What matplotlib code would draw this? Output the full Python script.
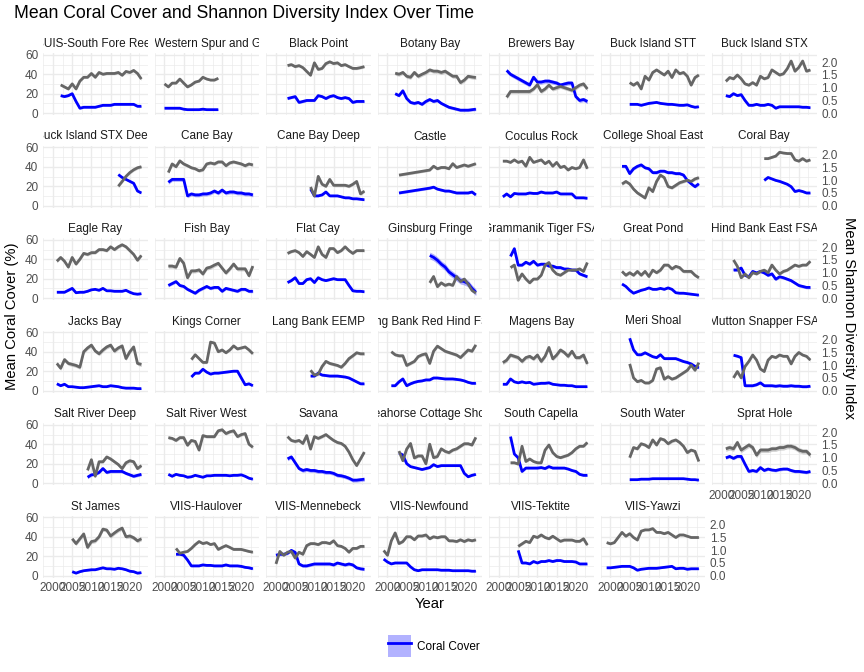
import numpy as np
import matplotlib
matplotlib.use("Agg")
import matplotlib.pyplot as plt
from matplotlib.patches import Patch
from matplotlib.lines import Line2D
from matplotlib.ticker import FormatStrFormatter

plt.rcParams["font.family"] = ["Liberation Sans", "DejaVu Sans"]

# -------------------------------------------------------------
# 1. DATA (one entry per site)
#    None = year not surveyed (line is bridged across the gap)
# -------------------------------------------------------------
sites = [
    "BUIS-South Fore Reef", "BUIS-Western Spur and Groove", "Black Point", "Botany Bay",
    "Brewers Bay", "Buck Island STT", "Buck Island STX",
    "Buck Island STX Deep", "Cane Bay", "Cane Bay Deep", "Castle", "Coculus Rock",
    "College Shoal East", "Coral Bay",
    "Eagle Ray", "Fish Bay", "Flat Cay", "Ginsburg Fringe", "Grammanik Tiger FSA",
    "Great Pond", "Hind Bank East FSA",
    "Jacks Bay", "Kings Corner", "Lang Bank EEMP", "Lang Bank Red Hind FSA", "Magens Bay",
    "Meri Shoal", "Mutton Snapper FSA",
    "Salt River Deep", "Salt River West", "Savana", "Seahorse Cottage Shoal", "South Capella",
    "South Water", "Sprat Hole",
    "St James", "VIIS-Haulover", "VIIS-Mennebeck", "VIIS-Newfound", "VIIS-Tektite", "VIIS-Yawzi",
]

first_year = [
    2002, 2000, 2003, 2002, 2002, 2005, 2001,
    2017, 2001, 2009, 2003, 2001, 2003, 2011,
    2001, 2001, 2003, 2011, 2003, 2003, 2003,
    2001, 2007, 2009, 2001, 2001, 2005, 2003,
    2009, 2001, 2003, 2003, 2003, 2005, 2001,
    2005, 2003, 2000, 1999, 2005, 1999,
]

N = None
coral_cover = [
    [18, 17, 18, 20, 12, 5, 6, 6, 6, 6, 7, 8, 8, 8, 9, 9, 9, 9, 9, 9, 7, 7],
    [5, 5, 5, 5, 5, 4, 3.5, 3.5, 3.5, 3.5, 4, 3.5, 3.5, 3.5, 3.5],
    [15, 16, 17, 11, 12, 13, 13, 13, 18, 17, 15, 17, 18, 16, 15, 16, 15, 11, 12, 12, 12],
    [20, 18, 23, 15, 11, 10, 11, 9, 12, 14, 12, 13, 10, 8, 6, 5, 4, 3, 3, 3, 3.5, 4],
    [44, 40, N, N, N, N, 29, 37, 32, 32, 33, 33, 32, 31, 29, 30, 31, 31, 17, 13, 14, 12],
    [9, 9, 9, 8, 9, 10, 10.5, 11, 10, 9.5, 9, 9, 8.5, 8, 8, 8.5, 7, 6, 6.5],
    [18, 17, 20, 18, 19, 13, 8, 8, 9, 8, 8, 9, 8, 5, 6.5, 6.5, 6.5, 6.5, 6.5, 6.5, 6, 6, 5.5],
    [32, 29, 27, 25, 23, 15, 13],
    [24, 27, 27, 27, 27, 10, 12, 11, 11, 12, 12, 13, 15, 13, 16, 13, 14, 14, 13, 13, 12, 12, 11],
    [17, 10, 10, 11, 14, 10, 10, 10, 9, 8, 8, 7, 7, 6.5, 6],
    [13, N, N, N, N, N, N, N, 18, 19, 17, 16, 15, 15, 14, 13, 13, 13, 13, 14, 11],
    [9, 12, 9, 12.5, 12, 12, 12, 13, 12.5, 12.5, 14, 13, 13, 13, 14, 12, 12, 12, 12, 8, 8, 8, 7.5],
    [40.5, 40.5, 33, 38, 40.5, 42, 39, 38, 34, 34, 35.5, 35.5, 34, 34, 33, 33, 31.5, 26, 22.5, 19.5, 22.5],
    [26, 29, 27.5, 26, 25, 23.5, 22, 19.5, 14.5, 15.5, 14.5, 13, 13],
    [6, 6, 6, 8, 10, 5.5, 6, 6, 7, 8.5, 9, 8, 10, 7.5, 7.5, 7, 7, 7, 8, 6, 4.5, 4, 4.5],
    [13, 15, 17, 13, 12, 9, 7, 5, 8, 10, 12, 10, 11, 11, 7, 10, 9, 8, 7, 9, 9, 7, 7],
    [16, 18, 21, 15, 15, 19, 20, 16, 21, 19, 18, 19, 20, 19, 19, 19, 13, 7.5, 7, 7, 6.5],
    [44, 42, 39, 35, 32, 27, 24, 21, 18, 17, 15, 10, 6],
    [43, 51, 34, 34, 37, 35, 38, 34, 35, 35, 33, 33, 31.5, 31.5, 30, 30, 29, 29, 25, 23.5, 22],
    [14.5, 12, 8, 5, 6.5, 8, 9, 10.5, 9, 9, 10, 9, 10.5, 9, 5.5, 5, 5, 4.5, 4, 3.5, 3],
    [29, 29, 31, 23.5, 22, 27.5, 26, 27.5, 26, 23.5, 25, 19.5, 22, 21, 19.5, 18, 15.5, 13, 12, 11, 11],
    [7, 5, 6.5, 4, 4, 3.5, 3, 3, 3.5, 4, 4.5, 5, 4, 4, 5, 4.5, 4, 3, 2.5, 2.5, 2.5, 2, 2],
    [14, 18, 18, 22, 19, 17, 18, 18, 18.5, 19, 19.5, 20, 20, 13, 6, 7, 5],
    [15, 15, 18, 16, 15.5, 15, 15, 15, 14.5, 14, 13, 11, 9, 7, 7],
    [5, 5, 9, 12, 5, 7, 8.5, 9.5, 10, 11, 11, 13, 13, 12.5, 12, 12, 12, 11.5, 11, 10, 8.5, 7.5, 7.5],
    [6.5, 6.5, 12, 9, 8, 9, 8, 8.5, 6.5, 7, 7.5, 7.5, 8, 6.5, 6, 5.5, 5.5, 5, 5, 4, 4, 4, 4],
    [54, 42, 37, 37, 39, 37, 35, 34, 37, 33, 33, 33, 33, 31.5, 30, 29, 27.5, 25, 23.5],
    [36.5, 35.5, 34, 5, 5, 5, 6, 8, 5, 5, 5, 4.5, 5, 4.5, 4.5, 5, 4.5, 4.5, 4, 4, 4.5],
    [6, 8.5, 9, 11, 15, 11, 12, 12, 12, 12, 10, 8.5, 7, 8, 9],
    [9, 7, 9, 8, 7.5, 6, 6.5, 8, 7, 6, 7.5, 7.5, 8, 8, 8, 8, 7.5, 8, 8, 8.5, 7, 5, 4],
    [25, 27, 21, 15, 13, 14, 13, 13, 12, 12, 11, 11, 10, 8, 7.5, 6.5, 5, 3, 3, 3.5, 4],
    [31, 29, 20, 17, 16, 15, 14, 15, 16, 19, 17, 18, 18, 18, 18, 18, 18, 10, 6.5, 8, 9],
    [48, 30, 26, 12, 15.5, 15.5, 15.5, 15.5, 16, 15, 17, 15.5, 15.5, 15.5, 15.5, 14.5, 13, 12, 9, 8, 8],
    [3.5, 3.5, 3.5, 4, 4, 4, 4.5, 4.5, 4.5, 4.5, 4.5, 4.5, 4.5, 4.5, 4.5, 4, 3.5, 3.5, 3],
    [26, 27.5, 25.5, 27.5, 27.5, 19.5, 12, 13, 12, 16, 13, 14.5, 13.5, 13, 14, 14.5, 14.5, 13, 12, 12, 11.5, 11, 12],
    [4, 2.5, 4, 5, 5.5, 6, 6, 7, 8, 7, 7, 6.5, 7.5, 7, 6, 4.5, 4, 2.5, 3],
    [22, 22, 21, 16, 10, 10, 10, 11, 10.5, 10.5, 10, 10, 10, 11, 10, 10, 10, 9.5, 8.5, 8, 7],
    [21, 22, 22, 23, 26, 24, 12, 10, 10, 11, 12, 12, 12, 12, 12, 11, 13, 12, 11, 12, 11, 8, 7, 6.5],
    [17, 14, 12, 13, 13, 13, 13, 9, 6, 5, 6, 6, 6, 6, 6, 5.5, 5.5, 5.5, 5, 5, 5, 5, 5, 4.5, 4.5],
    [26, 13, 13, 12, 14.5, 13, 14.5, 14.5, 15.5, 14.5, 15.5, 15.5, 14.5, 14.5, 14.5, 14, 12, 12, 12],
    [8, 8, 8.5, 9, 9.5, 9.5, 9.5, 8, 5.5, 6.5, 7, 7.5, 7.5, 7.5, 8, 8.5, 9, 9.5, 7, 7.5, 7.5, 6.5, 7, 7, 7],
]

shannon_index = [
    [1.11, 1.03, 0.95, 1.15, 0.95, 1.26, 1.41, 1.41, 1.56, 1.41, 1.60, 1.53, 1.56, 1.56, 1.56, 1.60, 1.49, 1.64, 1.60, 1.68, 1.56, 1.34],
    [1.15, 1.03, 1.18, 1.18, 1.34, 1.18, 1.03, 1.11, 1.22, 1.26, 1.41, 1.34, 1.30, 1.30, 1.37],
    [1.87, 1.91, 1.83, 1.87, 1.79, 1.64, 1.49, 1.98, 1.72, 1.76, 1.95, 2.02, 1.95, 1.98, 1.87, 1.91, 1.83, 1.76, 1.76, 1.79, 1.83],
    [1.57, 1.53, 1.60, 1.45, 1.41, 1.60, 1.45, 1.53, 1.60, 1.70, 1.65, 1.65, 1.60, 1.65, 1.55, 1.45, 1.45, 1.20, 1.30, 1.45, 1.42, 1.40],
    [0.62, 0.85, N, N, N, N, 0.85, 0.95, 1.12, 0.85, 0.95, 1.10, 0.95, 1.00, 1.05, 1.00, 0.95, 0.90, 1.00, 1.10, 1.15, 0.95],
    [1.20, 1.10, 1.20, 0.95, 1.45, 1.30, 1.60, 1.70, 1.60, 1.50, 1.65, 1.40, 1.70, 1.55, 1.60, 1.45, 1.10, 1.40, 1.50],
    [1.25, 1.40, 1.35, 1.50, 1.35, 1.15, 1.10, 1.20, 1.10, 1.45, 1.35, 1.40, 1.70, 1.60, 1.50, 1.55, 1.75, 2.05, 1.65, 1.80, 2.05, 1.65, 1.70],
    [0.76, 0.95, 1.15, 1.30, 1.41, 1.49, 1.53],
    [1.30, 1.64, 1.53, 1.76, 1.64, 1.57, 1.49, 1.45, 1.37, 1.41, 1.64, 1.68, 1.64, 1.72, 1.72, 1.57, 1.68, 1.72, 1.68, 1.64, 1.57, 1.64, 1.60],
    [0.73, 0.38, 1.15, 0.84, 0.76, 1.03, 0.80, 0.80, 0.80, 0.80, 0.76, 0.84, 0.95, 0.46, 0.57],
    [1.20, N, N, N, N, N, N, N, 1.40, 1.55, 1.45, 1.50, 1.50, 1.45, 1.65, 1.50, 1.55, 1.60, 1.55, 1.60, 1.65],
    [1.75, 1.75, 1.70, 1.80, 1.70, 1.75, 1.55, 1.90, 1.70, 1.75, 1.80, 1.65, 1.75, 1.55, 1.70, 1.50, 1.55, 1.40, 1.50, 1.45, 1.50, 1.80, 1.45],
    [0.85, 0.95, 0.85, 0.65, 0.50, 0.40, 0.30, 0.70, 0.55, 0.95, 1.20, 1.10, 0.75, 0.70, 0.80, 0.90, 0.95, 1.00, 0.95, 1.05, 1.10],
    [1.85, 1.85, 1.90, 1.95, 2.10, 2.07, 2.05, 2.05, 1.80, 1.75, 1.85, 1.75, 1.80],
    [1.45, 1.60, 1.45, 1.22, 1.60, 1.34, 1.53, 1.76, 1.72, 1.79, 1.79, 1.91, 1.91, 1.87, 2.02, 1.91, 2.02, 2.10, 2.02, 1.87, 1.72, 1.49, 1.68],
    [1.26, 1.26, 1.22, 1.56, 1.37, 0.80, 1.07, 1.07, 1.11, 0.95, 1.18, 1.22, 1.30, 1.37, 1.18, 0.99, 1.15, 1.34, 1.15, 1.15, 1.15, 0.88, 1.26],
    [1.76, 1.83, 1.87, 1.79, 1.64, 1.83, 1.72, 1.60, 2.02, 1.72, 1.60, 1.95, 1.95, 1.79, 1.87, 2.02, 1.87, 1.76, 1.87, 1.87, 1.87],
    [0.60, 0.85, 0.45, 0.60, 0.50, 0.55, 0.50, 0.85, 0.65, 0.75, 0.55, 0.30, 0.20],
    [1.20, 1.30, 0.70, 0.95, 0.75, 0.60, 0.75, 0.75, 0.90, 1.30, 1.40, 1.10, 0.95, 0.90, 1.00, 1.10, 1.10, 1.10, 1.15, 1.05, 1.40],
    [1.05, 0.90, 1.00, 0.90, 1.05, 0.90, 1.05, 0.85, 1.10, 1.00, 1.10, 1.30, 1.30, 1.15, 1.25, 1.20, 1.05, 1.05, 1.05, 0.90, 0.80],
    [1.50, 1.25, 0.80, 0.95, 0.80, 1.00, 0.95, 1.05, 1.10, 1.00, 1.30, 1.10, 0.95, 1.05, 1.10, 1.20, 1.30, 1.25, 1.30, 1.30, 1.45],
    [1.07, 0.88, 1.22, 1.07, 1.03, 0.99, 0.92, 1.53, 1.68, 1.79, 1.56, 1.45, 1.60, 1.72, 1.79, 1.56, 1.68, 1.76, 1.26, 1.53, 1.72, 1.07, 1.03],
    [1.22, 1.41, 1.26, 1.11, 1.11, 1.91, 1.87, 1.53, 1.60, 1.49, 1.60, 1.76, 1.64, 1.68, 1.72, 1.60, 1.45],
    [0.80, 0.61, 0.65, 0.95, 1.15, 1.07, 1.03, 0.99, 0.92, 1.07, 1.26, 1.37, 1.49, 1.45, 1.45],
    [1.53, 1.41, 1.37, 1.37, 0.99, 1.07, 1.15, 1.34, 1.41, 1.45, 1.07, 1.55, 1.75, 1.65, 1.55, 1.50, 1.45, 1.40, 1.30, 1.45, 1.60, 1.55, 1.80],
    [1.10, 1.20, 1.40, 1.35, 1.30, 1.15, 1.30, 1.35, 1.25, 1.40, 1.15, 1.35, 1.70, 1.25, 1.40, 1.60, 1.50, 1.35, 1.55, 1.30, 1.30, 1.40, 1.05],
    [1.05, 0.50, 0.35, 0.40, 0.30, 0.30, 0.40, 0.85, 0.90, 0.45, 0.55, 0.45, 0.50, 0.60, 0.70, 0.80, 1.00, 0.80, 1.10],
    [0.50, 0.75, 0.50, 0.95, 1.15, 1.40, 1.20, 0.85, 0.75, 1.20, 1.35, 1.30, 1.40, 1.35, 1.35, 1.05, 1.35, 1.50, 1.40, 1.35, 1.20],
    [0.50, 0.92, 0.27, 0.84, 0.84, 1.03, 0.95, 0.84, 0.73, 0.57, 0.80, 0.88, 0.84, 0.57, 0.69],
    [1.79, 1.76, 1.68, 1.79, 1.79, 1.49, 1.68, 1.64, 1.30, 1.87, 1.83, 1.83, 1.83, 2.06, 2.10, 1.95, 2.02, 2.06, 1.83, 1.91, 1.95, 1.53, 1.41],
    [1.83, 1.68, 1.64, 1.68, 1.56, 1.87, 1.34, 1.83, 1.76, 1.83, 1.91, 1.79, 1.68, 1.60, 1.56, 1.45, 1.22, 0.92, 0.69, 0.95, 1.22],
    [1.26, 0.88, 1.34, 1.56, 0.99, 1.07, 1.07, 0.76, 1.53, 1.00, 1.05, 1.35, 1.25, 1.20, 1.30, 1.35, 1.45, 1.55, 1.55, 1.50, 1.80],
    [0.80, 0.80, 0.75, 1.45, 0.85, 0.95, 0.85, 0.80, 0.80, 1.30, 1.50, 1.20, 1.05, 1.00, 1.05, 1.10, 1.20, 1.35, 1.45, 1.45, 1.60],
    [1.00, 1.40, 1.35, 1.55, 1.50, 1.40, 1.70, 1.50, 1.75, 1.70, 1.55, 1.65, 1.70, 1.60, 1.45, 1.20, 1.30, 1.25, 0.85],
    [1.35, 1.40, 1.35, 1.60, 1.30, 1.40, 1.50, 1.40, 1.10, 1.30, 1.30, 1.30, 1.35, 1.35, 1.40, 1.40, 1.45, 1.45, 1.40, 1.30, 1.25, 1.25, 1.10],
    [1.45, 1.26, 1.45, 1.64, 1.11, 1.34, 1.37, 1.53, 1.83, 1.79, 1.56, 1.68, 1.79, 1.87, 1.53, 1.56, 1.49, 1.37, 1.45],
    [1.07, 0.88, 0.92, 0.95, 1.07, 1.22, 1.34, 1.26, 1.30, 1.22, 1.26, 1.03, 1.11, 1.18, 1.11, 1.03, 1.03, 1.03, 0.99, 0.95, 0.92],
    [0.46, 0.95, 0.80, 0.92, 0.95, 0.69, 0.92, 0.84, 1.18, 1.26, 1.26, 1.22, 1.30, 1.30, 1.26, 1.37, 1.18, 1.15, 1.07, 0.92, 1.07, 1.07, 1.15, 1.15],
    [0.99, 0.80, 1.37, 1.68, 1.26, 1.34, 1.53, 1.53, 1.41, 1.56, 1.56, 1.60, 1.45, 1.53, 1.49, 1.53, 1.53, 1.37, 1.37, 1.34, 1.41, 1.34, 1.41, 1.37, 1.41],
    [1.15, 1.25, 1.35, 1.30, 1.55, 1.50, 1.60, 1.50, 1.45, 1.55, 1.45, 1.35, 1.40, 1.40, 1.40, 1.35, 1.35, 1.45, 1.20],
    [1.30, 1.25, 1.30, 1.50, 1.70, 1.55, 1.65, 1.50, 1.40, 1.75, 1.80, 1.80, 1.85, 1.70, 1.70, 1.65, 1.70, 1.60, 1.50, 1.60, 1.60, 1.55, 1.50, 1.50, 1.50],
]

# half-width of the shaded uncertainty band around each site's lines
coral_band = [
    1.0, 0.8, 1.2, 1.5, 2.2, 0.8, 1.0,
    1.0, 2.0, 1.0, 1.2, 1.0, 1.5, 1.0,
    0.8, 1.5, 1.0, 3.5, 1.5, 0.8, 1.5,
    0.8, 1.0, 1.2, 1.0, 0.8, 1.2, 1.2,
    1.5, 0.8, 2.0, 1.0, 1.2, 0.6, 1.5,
    0.8, 1.0, 1.5, 0.8, 1.0, 0.8,
]
shannon_band = [
    0.05, 0.04, 0.05, 0.08, 0.08, 0.05, 0.05,
    0.06, 0.06, 0.06, 0.05, 0.04, 0.06, 0.04,
    0.06, 0.08, 0.05, 0.06, 0.05, 0.06, 0.05,
    0.08, 0.05, 0.06, 0.06, 0.08, 0.05, 0.05,
    0.06, 0.06, 0.06, 0.06, 0.05, 0.06, 0.10,
    0.08, 0.04, 0.05, 0.05, 0.05, 0.04,
]

SCALE = 26.2  # Shannon index * SCALE -> coral cover axis units

# -------------------------------------------------------------
# 2. LAYOUT (pixel grid of the facets)
# -------------------------------------------------------------
W, H = 864, 672
n_cols = 7
panel_w, panel_h = 104.5, 62
col_step, row_step = 111.5, 92.5
left0, top0 = 43, 53
strip_h = 18

fs = 8.45
tick_col = "#4D4D4D"
grid_col = "#EBEBEB"


def present(start, values):
    yrs = [start + k for k, v in enumerate(values) if v is not None]
    vals = [v for v in values if v is not None]
    return np.array(yrs, dtype=float), np.array(vals, dtype=float)


fig = plt.figure(figsize=(W / 100, H / 100), dpi=100)

for i, site in enumerate(sites):
    r, c = divmod(i, n_cols)
    left = left0 + c * col_step
    top = top0 + r * row_step
    ax = fig.add_axes([left / W, 1 - (top + panel_h) / H, panel_w / W, panel_h / H])

    cy, cv = present(first_year[i], coral_cover[i])
    sy, sv = present(first_year[i], shannon_index[i])
    sv_scaled = sv * SCALE
    sb = shannon_band[i] * SCALE

    ax.fill_between(cy, cv - coral_band[i], cv + coral_band[i], color="blue", alpha=0.3, lw=0)
    ax.plot(cy, cv, color="blue", lw=2.0, solid_capstyle="butt")
    ax.fill_between(sy, sv_scaled - sb, sv_scaled + sb, color="#666666", alpha=0.3, lw=0)
    ax.plot(sy, sv_scaled, color="#666666", lw=2.0, solid_capstyle="butt")

    ax.set_xlim(1997.4, 2024.6)
    ax.set_ylim(-2, 62)
    ax.set_xticks([2000, 2005, 2010, 2015, 2020])
    ax.set_xticks(np.arange(1997.5, 2025, 5), minor=True)
    ax.set_yticks([0, 20, 40, 60])
    ax.set_yticks([10, 30, 50], minor=True)
    ax.grid(which="major", color=grid_col, lw=1.0)
    ax.grid(which="minor", color=grid_col, lw=0.5)
    ax.set_axisbelow(True)
    for s in ax.spines.values():
        s.set_visible(False)
    ax.tick_params(which="both", length=0, labelsize=fs, labelcolor=tick_col)
    ax.tick_params(axis="y", pad=3.5)
    ax.tick_params(axis="x", pad=3.5)

    if c != 0:
        ax.tick_params(labelleft=False)
    if i + n_cols < len(sites):
        ax.tick_params(labelbottom=False)

    if c == n_cols - 1 or i == len(sites) - 1:
        sec = ax.secondary_yaxis("right", functions=(lambda y: y / SCALE, lambda y: y * SCALE))
        sec.set_yticks([0, 0.5, 1.0, 1.5, 2.0])
        sec.yaxis.set_major_formatter(FormatStrFormatter("%.1f"))
        sec.tick_params(length=0, labelsize=fs, labelcolor=tick_col, pad=3.5)
        for s in sec.spines.values():
            s.set_visible(False)

    # facet strip, text clipped to the panel width like ggplot does
    sax = fig.add_axes([left / W, 1 - top / H, panel_w / W, strip_h / H])
    sax.axis("off")
    t = sax.text(0.5, 0.5, site, ha="center", va="center", fontsize=fs,
                 color="#1A1A1A", transform=sax.transAxes, clip_on=True)
    t.set_clip_box(sax.bbox)

# -------------------------------------------------------------
# 3. TITLES, AXIS LABELS AND LEGEND
# -------------------------------------------------------------
fig.text(14 / W, 1 - 14 / H, "Mean Coral Cover and Shannon Diversity Index Over Time",
         ha="left", va="center", fontsize=12.7, color="black")
fig.text(12 / W, 1 - 316 / H, "Mean Coral Cover (%)", rotation=90,
         ha="center", va="center", fontsize=10.6)
fig.text(849 / W, 1 - 318 / H, "Mean Shannon Diversity Index", rotation=270,
         ha="center", va="center", fontsize=10.6)
fig.text(430 / W, 1 - 604 / H, "Year", ha="center", va="center", fontsize=10.6)

handle = (Patch(facecolor="blue", alpha=0.3, edgecolor="none"),
          Line2D([], [], color="blue", lw=2.0))
fig.legend([handle], ["Coral Cover"], loc="center", bbox_to_anchor=(434 / W, 1 - 646 / H),
           frameon=False, fontsize=fs, handlelength=1.9, handleheight=2.4, handletextpad=0.55)

fig.savefig("out.png", dpi=100)
